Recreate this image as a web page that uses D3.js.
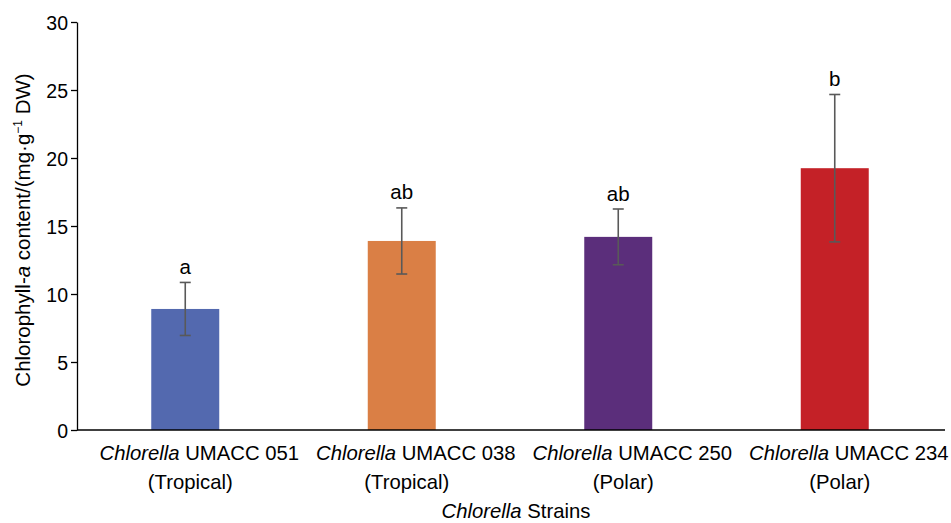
<!DOCTYPE html>
<html>
<head>
<meta charset="utf-8">
<script src="https://cdn.jsdelivr.net/npm/d3@7"></script>
<style>
  body { margin: 0; background: #fff; }
  text { font-family: "Liberation Sans", Arial, sans-serif; }
</style>
</head>
<body>
<div id="chart"></div>
<script>
// data
var strains = ["UMACC 051", "UMACC 038", "UMACC 250", "UMACC 234"];
var regions = ["(Tropical)", "(Tropical)", "(Polar)", "(Polar)"];
var means = [8.9, 13.9, 14.2, 19.25];
var errs = [1.95, 2.43, 2.05, 5.42];
var letters = ["a", "ab", "ab", "b"];
var yTicks = [0, 5, 10, 15, 20, 25, 30];
var colors = ["#5369AF", "#DA7F45", "#5B2E7B", "#C42127"];

var width = 951, height = 523;
var margin = {top: 22, right: 8, bottom: 93, left: 77};

var svg = d3.select("#chart")
  .append("svg")
    .attr("width", width)
    .attr("height", height);

var x = d3.scaleBand()
  .domain(strains)
  .range([margin.left, width - margin.right])
  .paddingInner(0.686)
  .paddingOuter(0.343);

var y = d3.scaleLinear()
  .domain([0, 30])
  .range([height - margin.bottom, margin.top]);

// y axis
var yAxis = svg.append("g")
  .attr("transform", "translate(" + margin.left + ",0)")
  .call(d3.axisLeft(y).tickValues(yTicks).tickSize(6).tickPadding(3).tickSizeOuter(0));
yAxis.select(".domain").attr("stroke", "#000").attr("stroke-width", 1.3);
yAxis.selectAll(".tick line").attr("stroke", "#000").attr("stroke-width", 1.3);
yAxis.selectAll(".tick text")
  .attr("fill", "#000")
  .attr("dy", "0.36em")
  .style("font-size", "19.5px")
  .style("font-family", "'Liberation Sans', Arial, sans-serif");

// bars
svg.append("g")
  .selectAll("rect")
  .data(means)
  .enter()
  .append("rect")
    .attr("x", function(d, i) { return x(strains[i]); })
    .attr("y", function(d) { return y(d); })
    .attr("width", x.bandwidth())
    .attr("height", function(d) { return y(0) - y(d); })
    .attr("fill", function(d, i) { return colors[i]; });

// error bars
var eb = svg.append("g").attr("stroke", "#595959").attr("stroke-width", 1.6);
means.forEach(function(m, i) {
  var cx = x(strains[i]) + x.bandwidth() / 2;
  eb.append("line").attr("x1", cx).attr("x2", cx)
    .attr("y1", y(m + errs[i])).attr("y2", y(m - errs[i]));
  eb.append("line").attr("x1", cx - 5.5).attr("x2", cx + 5.5)
    .attr("y1", y(m + errs[i])).attr("y2", y(m + errs[i]));
  eb.append("line").attr("x1", cx - 5.5).attr("x2", cx + 5.5)
    .attr("y1", y(m - errs[i])).attr("y2", y(m - errs[i]));

  // significance letters
  svg.append("text")
    .attr("x", cx)
    .attr("y", y(m + errs[i]) - 8.5)
    .attr("text-anchor", "middle")
    .style("font-size", "20.5px")
    .text(letters[i]);

  // category labels
  var lab = svg.append("text")
    .attr("x", cx + 14)
    .attr("y", 460)
    .attr("text-anchor", "middle")
    .style("font-size", "20.3px");
  lab.append("tspan").style("font-style", "italic").text("Chlorella");
  lab.append("tspan").text(" " + strains[i]);
  svg.append("text")
    .attr("x", cx + 5)
    .attr("y", 489)
    .attr("text-anchor", "middle")
    .style("font-size", "20.3px")
    .text(regions[i]);
});

// x axis line
svg.append("line")
  .attr("x1", margin.left).attr("x2", width - margin.right + 2)
  .attr("y1", y(0)).attr("y2", y(0))
  .attr("stroke", "#000").attr("stroke-width", 1.5);

// x title
var xt = svg.append("text")
  .attr("x", (margin.left + width - margin.right) / 2 + 6)
  .attr("y", 518)
  .attr("text-anchor", "middle")
  .style("font-size", "20.3px");
xt.append("tspan").style("font-style", "italic").text("Chlorella");
xt.append("tspan").text(" Strains");

// y title
var yt = svg.append("text")
  .attr("transform", "translate(30,230) rotate(-90)")
  .attr("text-anchor", "middle")
  .style("font-size", "20.5px");
yt.append("tspan").text("Chlorophyll-");
yt.append("tspan").style("font-style", "italic").text("a");
yt.append("tspan").text(" content/(mg\u00b7g");
yt.append("tspan").attr("dy", -8).style("font-size", "12px").text("\u22121");
yt.append("tspan").attr("dy", 8).text(" DW)");
</script>
</body>
</html>
